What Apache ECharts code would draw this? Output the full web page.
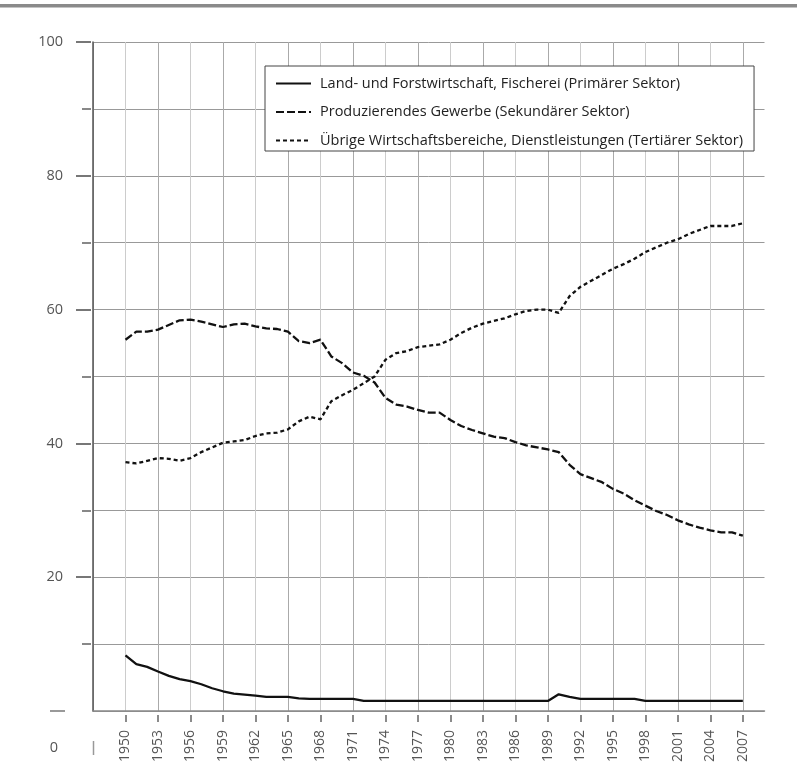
<!DOCTYPE html>
<html><head><meta charset="utf-8">
<script src="https://cdn.jsdelivr.net/npm/echarts@6/dist/echarts.min.js"></script>
<style>html,body{margin:0;padding:0;background:#fff}#c{width:797px;height:776px}</style>
</head><body><div id="c"></div>
<script>
const years = [1950,1951,1952,1953,1954,1955,1956,1957,1958,1959,
  1960,1961,1962,1963,1964,1965,1966,1967,1968,1969,
  1970,1971,1972,1973,1974,1975,1976,1977,1978,1979,
  1980,1981,1982,1983,1984,1985,1986,1987,1988,1989,
  1990,1991,1992,1993,1994,1995,1996,1997,1998,1999,
  2000,2001,2002,2003,2004,2005,2006,2007];
const axisYears = [1947,1948,1949].concat(years, [2008,2009]);
const primary = [8.3,7.0,6.6,5.9,5.25,4.75,4.45,4.0,3.4,2.95,
  2.6,2.45,2.3,2.1,2.1,2.1,1.9,1.8,1.8,1.8,
  1.8,1.8,1.5,1.5,1.5,1.5,1.5,1.5,1.5,1.5,
  1.5,1.5,1.5,1.5,1.5,1.5,1.5,1.5,1.5,1.5,
  2.5,2.1,1.8,1.8,1.8,1.8,1.8,1.8,1.5,1.5,
  1.5,1.5,1.5,1.5,1.5,1.5,1.5,1.5];
const secondary = [55.5,56.7,56.7,57.0,57.7,58.4,58.5,58.2,57.8,57.4,
  57.8,57.9,57.5,57.2,57.1,56.7,55.3,55.0,55.5,53.0,
  52.0,50.6,50.1,49.1,46.8,45.8,45.5,45.0,44.6,44.6,
  43.5,42.6,42.0,41.5,41.0,40.8,40.2,39.7,39.4,39.1,
  38.7,36.8,35.4,34.8,34.2,33.2,32.5,31.5,30.7,29.9,
  29.3,28.5,27.9,27.4,27.0,26.7,26.7,26.2];
const tertiary = [37.2,37.0,37.4,37.8,37.7,37.4,37.8,38.7,39.4,40.1,
  40.3,40.5,41.1,41.5,41.6,42.1,43.3,44.0,43.6,46.3,
  47.2,48.0,49.0,50.0,52.5,53.5,53.8,54.4,54.6,54.8,
  55.5,56.5,57.3,57.9,58.3,58.7,59.3,59.8,60.0,60.0,
  59.5,62.0,63.4,64.3,65.2,66.1,66.8,67.6,68.6,69.3,
  70.0,70.5,71.3,71.9,72.5,72.5,72.5,72.9];
const yTickLabels = ['0','10','20','30','40','50','60','70','80','90','100'];
const seriesNames = [
  'Land- und Forstwirtschaft, Fischerei (Primärer Sektor)',
  'Produzierendes Gewerbe (Sekundärer Sektor)',
  'Übrige Wirtschaftsbereiche, Dienstleistungen (Tertiärer Sektor)'
];

const FONT = 'Open Sans';
const cats = axisYears.map(String);
const pairs = arr => years.map((y, i) => [String(y), arr[i]]);
const xTickShown = i => i % 3 === 0 && i >= 3 && i <= 60;

const chart = echarts.init(document.getElementById('c'), null, {renderer: 'canvas'});
const lineBase = {type: 'line', symbol: 'none', xAxisIndex: 0, yAxisIndex: 0, animation: false, color: '#111'};

chart.setOption({
  animation: false,
  backgroundColor: '#fff',
  grid: {left: 93, right: 32.5, top: 42, bottom: 65, containLabel: false},
  legend: {
    show: true, orient: 'vertical', left: 265, top: 66,
    itemWidth: 35, itemHeight: 14, itemGap: 13.5,
    padding: [10, 11, 3, 10],
    backgroundColor: '#fff', borderColor: '#444', borderWidth: 1,
    itemStyle: {color: 'rgba(0,0,0,0)', borderWidth: 0, opacity: 0},
    textStyle: {color: '#222', fontSize: 14.5, fontFamily: FONT, padding: [0, 0, 0, 4]},
    data: seriesNames
  },
  xAxis: [{
    type: 'category', data: cats, boundaryGap: false,
    axisLine: {show: true, lineStyle: {color: '#888', width: 1.5}},
    axisTick: {show: false},
    axisLabel: {interval: xTickShown, rotate: 90, margin: 19, color: '#555', fontSize: 14, fontFamily: FONT},
    splitLine: {show: true, interval: i => i % 3 === 0, lineStyle: {color: ['#aaaaaa', '#cccccc'], width: 1}}
  }, {
    type: 'category', data: cats, boundaryGap: false, position: 'bottom', offset: 4,
    axisLine: {show: false},
    axisTick: {show: true, interval: xTickShown, length: 7, lineStyle: {color: '#666', width: 1.5}},
    axisLabel: {show: false}, splitLine: {show: false}
  }],
  yAxis: [{
    type: 'value', min: 0, max: 100, interval: 10,
    axisLine: {show: true, lineStyle: {color: '#555', width: 1.5}},
    axisTick: {show: false}, axisLabel: {show: false},
    splitLine: {show: true, lineStyle: {color: '#999', width: 1}}
  }, {
    type: 'category', data: yTickLabels, boundaryGap: false, position: 'left', offset: 2,
    axisLine: {show: false},
    axisTick: {show: true, interval: i => i > 0 && i % 2 === 0, length: 15, lineStyle: {color: '#777', width: 2}},
    axisLabel: {show: true, interval: i => i > 0 && i % 2 === 0, margin: 28, color: '#555', fontSize: 14.5, fontFamily: FONT},
    splitLine: {show: false}
  }, {
    type: 'category', data: yTickLabels, boundaryGap: false, position: 'left', offset: 2,
    axisLine: {show: false},
    axisTick: {show: true, interval: i => i % 2 === 1, length: 9, lineStyle: {color: '#888', width: 2}},
    axisLabel: {show: false}, splitLine: {show: false}
  }],
  series: [
    Object.assign({}, lineBase, {name: seriesNames[0], data: pairs(primary), lineStyle: {color: '#111', width: 2.3, type: 'solid'}}),
    Object.assign({}, lineBase, {name: seriesNames[1], data: pairs(secondary), lineStyle: {color: '#111', width: 2.3, type: [8, 3]}}),
    Object.assign({}, lineBase, {name: seriesNames[2], data: pairs(tertiary), lineStyle: {color: '#111', width: 2.3, type: [4, 3]}})
  ]
});

const y0 = chart.convertToPixel({yAxisIndex: 0}, 0);
const xL = chart.convertToPixel({xAxisIndex: 0}, '1947');
chart.setOption({
  graphic: [
    {type: 'rect', shape: {x: 0, y: 4, width: 797, height: 3.5}, style: {fill: '#8a8a8a'}, silent: true},
    {type: 'line', shape: {x1: xL - 43, y1: y0, x2: xL - 28, y2: y0}, style: {stroke: '#999', lineWidth: 2}, silent: true},
    {type: 'line', shape: {x1: xL + 0.5, y1: y0 + 30, x2: xL + 0.5, y2: y0 + 44}, style: {stroke: '#999', lineWidth: 1.5}, silent: true},
    {type: 'text', x: xL - 39, y: y0 + 37, style: {text: '0', fill: '#555', fontSize: 14.5, fontFamily: FONT, align: 'center', verticalAlign: 'middle'}, silent: true}
  ]
});
</script>
</body></html>
